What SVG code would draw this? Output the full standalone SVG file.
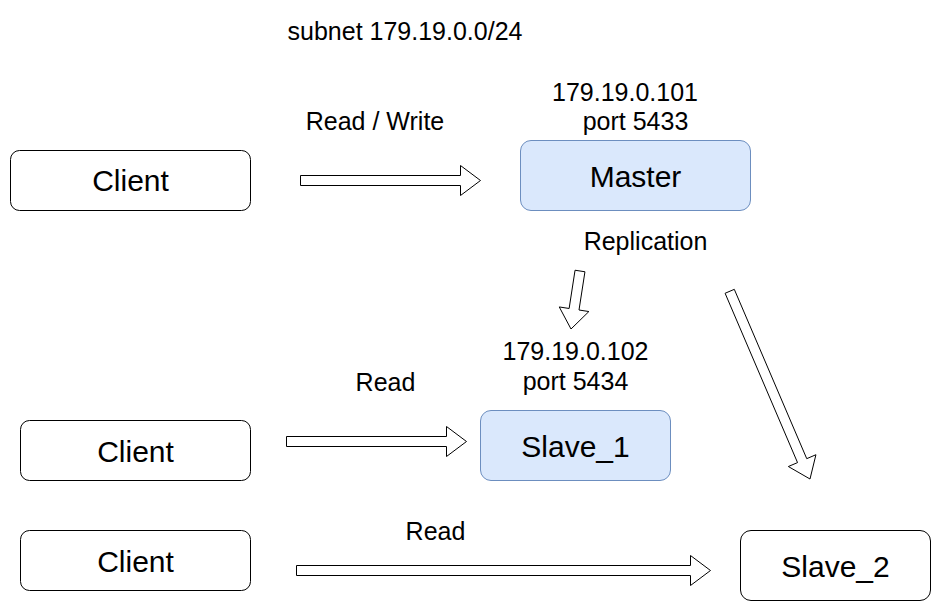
<svg xmlns="http://www.w3.org/2000/svg" width="941" height="611" viewBox="0 0 941 611">
<style>
text{font-family:"Liberation Sans",Arial,sans-serif;fill:#000;text-anchor:middle}
.lbl{font-size:25px}
.nt{font-size:30px}
.box{fill:#fff;stroke:#000;stroke-width:1}
.blue{fill:#dae8fc;stroke:#6c8ebf;stroke-width:1}
.arr{fill:#fff;stroke:#000;stroke-width:1;stroke-linejoin:miter}
</style>
<rect width="941" height="611" fill="#fff"/>
<g id="labels">
<text class="lbl" x="405" y="40">subnet 179.19.0.0/24</text>
<text class="lbl" x="375" y="130">Read / Write</text>
<text class="lbl" x="625" y="101">179.19.0.101</text>
<text class="lbl" x="635.5" y="130">port 5433</text>
<text class="lbl" x="645.5" y="250">Replication</text>
<text class="lbl" x="575.5" y="360">179.19.0.102</text>
<text class="lbl" x="575.5" y="390">port 5434</text>
<text class="lbl" x="385.5" y="391">Read</text>
<text class="lbl" x="435.5" y="540">Read</text>
</g>
<g id="client1"><rect class="box" x="10.5" y="150.5" width="240" height="60" rx="9"/><text class="nt" x="130.5" y="191">Client</text></g>
<g id="master"><rect class="blue" x="520.5" y="140.5" width="230" height="70" rx="10.5"/><text class="nt" x="635.5" y="186.5">Master</text></g>
<g id="client2"><rect class="box" x="20.5" y="420.5" width="230" height="60" rx="9"/><text class="nt" x="135.5" y="461.5">Client</text></g>
<g id="slave1"><rect class="blue" x="480.5" y="410.5" width="190" height="70" rx="10.5"/><text class="nt" x="575.5" y="456.5">Slave_1</text></g>
<g id="client3"><rect class="box" x="20.5" y="530.5" width="230" height="60" rx="9"/><text class="nt" x="135.5" y="571.5">Client</text></g>
<g id="slave2"><rect class="box" x="740.5" y="530.5" width="190" height="70" rx="10.5"/><text class="nt" x="835.5" y="576.5">Slave_2</text></g>
<g id="connectors">
<polygon class="arr" points="300.5,175.5 460.5,175.5 460.5,165.5 480.5,180.5 460.5,195.5 460.5,185.5 300.5,185.5"/>
<polygon class="arr" points="286.5,436.5 446.5,436.5 446.5,426.5 466.5,441.5 446.5,456.5 446.5,446.5 286.5,446.5"/>
<polygon class="arr" points="296.5,565.5 690.5,565.5 690.5,555.5 710.5,570.5 690.5,585.5 690.5,575.5 296.5,575.5"/>
<polygon class="arr" points="575.06,270.23 569.13,308.47 559.25,306.94 571,329 588.89,311.54 579.01,310.01 584.94,271.77"/>
<polygon class="arr" points="725.10,293.27 797.54,462.60 788.35,466.53 810,479 815.93,454.73 806.74,458.66 734.30,289.33"/>
</g>
</svg>
